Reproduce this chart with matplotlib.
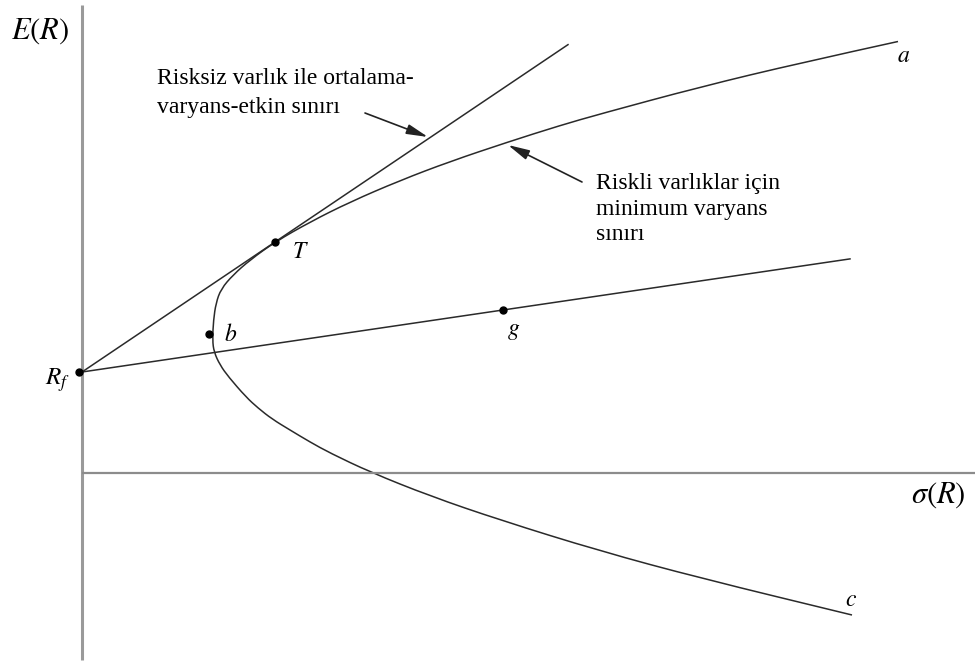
import matplotlib.pyplot as plt
from matplotlib.path import Path
from matplotlib.patches import PathPatch

plt.rcParams['font.family'] = ['Liberation Serif', 'DejaVu Serif']
plt.rcParams['mathtext.fontset'] = 'stix'

# minimum variance frontier for risky assets, (sigma, E) from end a down to end c
frontier_sigma = [816, 718, 618, 518, 478, 426, 368, 318, 268, 228, 193, 168, 151, 139,
                  134, 131.5, 130.5, 132, 138, 146.6, 164, 176, 190, 208, 228, 248,
                  288, 348, 418, 518, 618, 770]
frontier_er = [431.5, 410, 386, 359, 347.5, 331, 311.5, 292.5, 271, 251, 231, 213, 198, 184,
               170, 153, 133, 121, 108, 96, 76, 65, 54, 43, 31, 20,
               1, -23, -47, -78, -105, -142]

# risk-free rate and the marked portfolios
rf = 101
tangent_pt = (193, 231)   # T
g_pt = (421, 163)         # g
b_pt = (127, 139)         # b
cml_end = 486             # sigma where the line through T stops
rfg_end = 768             # sigma where the line through g stops

fig = plt.figure(figsize=(9.77, 6.64), dpi=100)
ax = fig.add_axes([0, 0, 1, 1])
ax.set_xlim(-82, 895)
ax.set_ylim(-191, 473)
ax.axis('off')

# the two axes of the diagram
ax.plot([0, 0], [-187, 468], color='#9a9a9a', lw=2.2, solid_capstyle='butt')
ax.plot([0, 893], [0, 0], color='#8c8c8c', lw=1.6, solid_capstyle='butt')

line_color = '#2a2a2a'

# smooth quadratic path through the frontier points (midpoint scheme)
pts = list(zip(frontier_sigma, frontier_er))
verts = [pts[0]]
codes = [Path.MOVETO]
for i in range(1, len(pts) - 1):
    mid = ((pts[i][0] + pts[i + 1][0]) / 2, (pts[i][1] + pts[i + 1][1]) / 2)
    verts += [pts[i], mid]
    codes += [Path.CURVE3, Path.CURVE3]
verts.append(pts[-1])
codes.append(Path.LINETO)
ax.add_patch(PathPatch(Path(verts, codes), fill=False, edgecolor=line_color, lw=1.1))

# line from R_f tangent at T, and line from R_f through g
slope_t = (tangent_pt[1] - rf) / tangent_pt[0]
ax.plot([0, cml_end], [rf, rf + slope_t * cml_end], color=line_color, lw=1.1)
slope_g = (g_pt[1] - rf) / g_pt[0]
ax.plot([0, rfg_end], [rf, rf + slope_g * rfg_end], color=line_color, lw=1.1)

for px, py in [(-3, rf), tangent_pt, g_pt, b_pt]:
    ax.plot(px, py, 'o', color='black', ms=5)

ax.text(-71, 442, r'$E(R)$', fontsize=22, va='center', ha='left')
ax.text(829, -22, r'$\sigma(R)$', fontsize=22, va='center', ha='left')
ax.text(-37, 93, r'$R_f$', fontsize=18, va='center', ha='left')
ax.text(210, 220, r'$T$', fontsize=17, va='center', ha='left')
ax.text(142, 138, r'$b$', fontsize=17, va='center', ha='left')
ax.text(425, 142, r'$g$', fontsize=17, va='center', ha='left')
ax.text(815, 416, r'$a$', fontsize=17, va='center', ha='left')
ax.text(763, -127, r'$c$', fontsize=17, va='center', ha='left')

ax.text(75, 380, 'Risksiz varlık ile ortalama-\nvaryans-etkin sınırı',
        fontsize=17, va='center', ha='left', linespacing=1.5)
ax.text(514, 264, 'Riskli varlıklar için\nminimum varyans\nsınırı',
        fontsize=17, va='center', ha='left', linespacing=1.3)

arrow_kw = dict(arrowstyle='-|>,head_length=1.3,head_width=0.3', color='#222222', lw=1.2,
                shrinkA=0, shrinkB=0)
ax.annotate('', xy=(346, 336), xytext=(283, 360), arrowprops=arrow_kw)
ax.annotate('', xy=(426, 328), xytext=(500, 291), arrowprops=arrow_kw)

fig.savefig('out.png', dpi=100)
